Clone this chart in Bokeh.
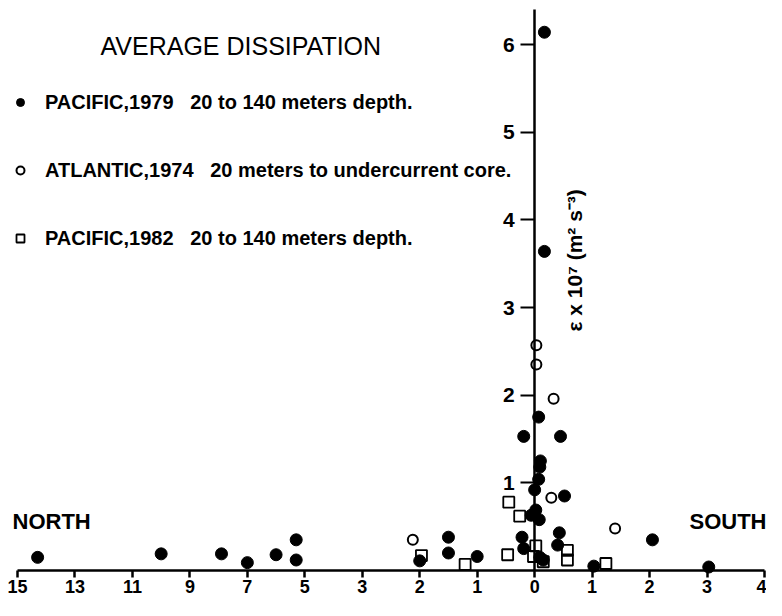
import numpy as np
from bokeh.plotting import figure
from bokeh.models import Range1d, LinearAxis, FixedTicker, Label, Legend, LegendItem
from bokeh.embed import file_html
from bokeh.resources import INLINE

# Latitude in degrees: negative = North, positive = South
pac79_lat = [-14.3, -10.0, -7.9, -7.0, -6.0, -5.3, -5.3, -2.0, -1.5, -1.5, -1.0,
             -0.22, -0.19, -0.19, -0.06, 0.0, 0.02, 0.07, 0.10, 0.09, 0.07, 0.08,
             0.09, 0.15, 0.43, 0.40, 0.45, 0.52, 1.03, 2.05, 3.03, 0.17, 0.17]
pac79_eps = [0.15, 0.19, 0.19, 0.09, 0.18, 0.35, 0.12, 0.11, 0.38, 0.20, 0.16,
             0.38, 0.25, 1.53, 0.63, 0.92, 0.69, 1.75, 1.25, 1.18, 1.04, 0.58,
             0.15, 0.12, 0.43, 0.29, 1.53, 0.85, 0.05, 0.35, 0.04, 6.14, 3.64]

atl74_lat = [0.03, 0.03, 0.33, 0.29, 1.40, -2.12]
atl74_eps = [2.57, 2.35, 1.96, 0.83, 0.48, 0.35]

pac82_lat = [-0.45, -0.26, -1.97, -1.21, -0.47, 0.02, -0.02, 0.15, 0.57, 0.57, 1.24]
pac82_eps = [0.78, 0.62, 0.17, 0.07, 0.18, 0.28, 0.16, 0.10, 0.23, 0.12, 0.08]

x_tick_labels = ["15", "13", "11", "9", "7", "5", "3", "2", "1", "0", "1", "2", "3", "4"]
y_ticks = [1, 2, 3, 4, 5, 6]


def to_axis(lat):
    # the original axis is compressed by a factor 2 north of 3N
    lat = np.asarray(lat, float)
    return np.where(lat >= -3, lat, -3 + (lat + 3) / 2)


W, H = 766, 600
FONT = "Liberation Sans"
INK = "black"

p = figure(width=W, height=H, output_backend="svg", toolbar_location=None,
           x_range=Range1d(-9.296, 4.035), y_range=Range1d(-0.342, 6.502),
           x_axis_type=None, y_axis_type=None, min_border=0,
           outline_line_color=None)

x_positions = list(range(-9, 5))
xaxis = LinearAxis(fixed_location=0, ticker=FixedTicker(ticks=x_positions),
                   bounds=(-9, 4),
                   major_label_overrides={t: l for t, l in zip(x_positions, x_tick_labels)})
xaxis.axis_line_width = 2.5
xaxis.axis_line_color = INK
xaxis.major_tick_line_width = 2.5
xaxis.major_tick_line_color = INK
xaxis.major_tick_out = 7
xaxis.major_tick_in = 0
xaxis.minor_tick_out = 0
xaxis.minor_tick_in = 0
xaxis.major_label_text_font = FONT
xaxis.major_label_text_font_style = "bold"
xaxis.major_label_text_font_size = "18px"
xaxis.major_label_text_color = INK
xaxis.major_label_standoff = 2
p.add_layout(xaxis, "below")

yaxis = LinearAxis(fixed_location=0, ticker=FixedTicker(ticks=y_ticks),
                   bounds=(0, 6.4))
yaxis.axis_line_width = 2.5
yaxis.axis_line_color = INK
yaxis.major_tick_line_width = 2
yaxis.major_tick_line_color = INK
yaxis.major_tick_out = 14
yaxis.major_tick_in = 0
yaxis.minor_tick_out = 0
yaxis.minor_tick_in = 0
yaxis.major_label_text_font = FONT
yaxis.major_label_text_font_style = "bold"
yaxis.major_label_text_font_size = "21px"
yaxis.major_label_text_color = INK
yaxis.major_label_standoff = 6
p.add_layout(yaxis, "left")

r82 = p.scatter(to_axis(pac82_lat), pac82_eps, marker="square", size=11,
                fill_color=None, line_color=INK, line_width=1.8)
r74 = p.scatter(to_axis(atl74_lat), atl74_eps, marker="circle", size=10,
                fill_color=None, line_color=INK, line_width=2)
r79 = p.scatter(to_axis(pac79_lat), pac79_eps, marker="circle", size=12,
                fill_color=INK, line_color=INK)

legend = Legend(items=[
    LegendItem(label="PACIFIC,1979   20 to 140 meters depth.", renderers=[r79]),
    LegendItem(label="ATLANTIC,1974   20 meters to undercurrent core.", renderers=[r74]),
    LegendItem(label="PACIFIC,1982   20 to 140 meters depth.", renderers=[r82]),
], location=(10, 350), margin=0, padding=0, spacing=44,
    glyph_width=20, glyph_height=24, label_height=24, label_standoff=15,
    label_text_font=FONT, label_text_font_style="bold", label_text_font_size="20px",
    label_text_color=INK, border_line_color=None, background_fill_color=None)
p.add_layout(legend)


def label(text, x, y, size, style="bold", align="left", angle=0.0):
    # x, y given as pixels from the top-left of the figure
    p.add_layout(Label(x=x, y=H - y, x_units="screen", y_units="screen", text=text,
                       text_font=FONT, text_font_style=style, text_font_size=size,
                       text_color=INK, text_align=align, text_baseline="middle",
                       angle=angle))


label("AVERAGE  DISSIPATION", 100, 45, "25px", style="normal")
label("NORTH", 12, 521, "22px")
label("SOUTH", 766, 521, "22px", align="right")
label("\u03b5 x 10\u2077   (m\u00b2 s\u207b\u00b3)", 574, 254, "21px", align="center", angle=np.pi / 2)

open("out.html", "w").write(file_html(p, INLINE))
